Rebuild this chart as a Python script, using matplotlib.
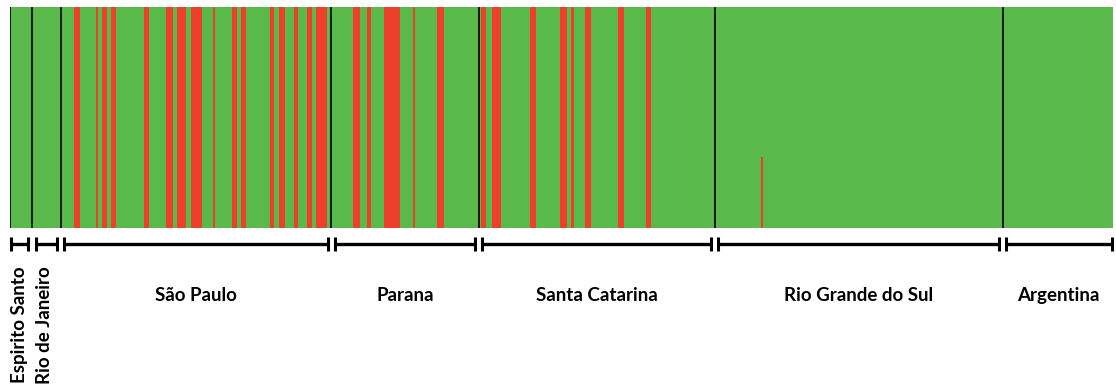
import matplotlib
matplotlib.use("Agg")
import matplotlib.pyplot as plt
import matplotlib.transforms as mtransforms

# Populations (left to right)
populations = ["Espirito Santo", "Rio de Janeiro", "São Paulo", "Parana",
               "Santa Catarina", "Rio Grande do Sul", "Argentina"]
rotated = [True, True, False, False, False, False, False]

# Run-length encoded membership: (number of individuals, proportion of red cluster)
es_runs = [(10, 0.0)]
rj_runs = [(13, 0.0)]
sp_runs = [(6, 0), (3, 1), (7, 0), (1, 1), (2, 0), (2, 1), (2, 0), (2, 1), (13, 0), (2, 1),
           (8, 0), (3, 1), (2, 0), (4, 1), (2, 0), (5, 1), (5, 0), (1, 1), (8, 0), (2, 1),
           (2, 0), (2, 1), (11, 0), (2, 1), (2, 0), (3, 1), (4, 0), (2, 1), (4, 0), (2, 1),
           (2, 0), (5, 1), (2, 0)]
pr_runs = [(10, 0), (3, 1), (3, 0), (2, 1), (6, 0), (7, 1), (6, 0), (1, 1), (10, 0), (3, 1),
           (16, 0)]
sc_runs = [(1, 0), (2, 1), (3, 0), (4, 1), (13, 0), (3, 1), (11, 0), (3, 1), (2, 0), (1, 1),
           (5, 0), (3, 1), (12, 0), (3, 1), (10, 0), (2, 1), (29, 0)]
rgs_runs = [(21, 0), (1, 0.32), (109, 0)]
ar_runs = [(50, 0.0)]

all_runs = [es_runs, rj_runs, sp_runs, pr_runs, sc_runs, rgs_runs, ar_runs]

GREEN = "#5ab94b"
RED = "#ee3f2c"

# expand runs into per-individual values
red_q = []
pop_sizes = []
for runs in all_runs:
    n = 0
    for cnt, q in runs:
        red_q.extend([q] * cnt)
        n += cnt
    pop_sizes.append(n)
green_q = [1 - q for q in red_q]
N = len(red_q)
xs = list(range(N))

W, H = 1116, 390
fig = plt.figure(figsize=(W / 100, H / 100), dpi=100)
ax = fig.add_axes([10 / W, (H - 228) / H, 1103 / W, 221 / H])

ax.bar(xs, red_q, width=1.0, align="edge", color=RED, linewidth=0, antialiased=False)
ax.bar(xs, green_q, bottom=red_q, width=1.0, align="edge", color=GREEN,
       linewidth=0, antialiased=False)

ax.set_xlim(0, N)
ax.set_ylim(0, 1)
ax.axis("off")

# boundaries
bounds = [0]
for s in pop_sizes:
    bounds.append(bounds[-1] + s)
for b in bounds[:-1]:
    ax.axvline(b, color="black", linewidth=1.2, zorder=5)

trans = mtransforms.blended_transform_factory(ax.transData, ax.transAxes)
y_line = -0.072
cap_half = 0.032
inset = 1.6
for i, name in enumerate(populations):
    a, b = bounds[i] + inset, bounds[i + 1] - inset
    if i == 0:
        a = bounds[i] + 0.6
    if i == len(populations) - 1:
        b = bounds[i + 1] - 0.4
    ax.plot([a, b], [y_line, y_line], color="black", lw=2.4, transform=trans,
            clip_on=False, solid_capstyle="butt")
    for xx in (a, b):
        ax.plot([xx, xx], [y_line - cap_half, y_line + cap_half], color="black", lw=2.2,
                transform=trans, clip_on=False, solid_capstyle="butt")
    cx = (bounds[i] + bounds[i + 1]) / 2
    if rotated[i]:
        ax.text(cx - 0.8, -0.175, name, rotation=90, ha="center", va="top",
                fontsize=13.5, fontweight="bold", family="Lato", transform=trans)
    else:
        ax.text(cx, -0.305, name, ha="center", va="center", fontsize=13.5,
                fontweight="bold", family="Lato", transform=trans)

fig.savefig("out.png", dpi=100)
